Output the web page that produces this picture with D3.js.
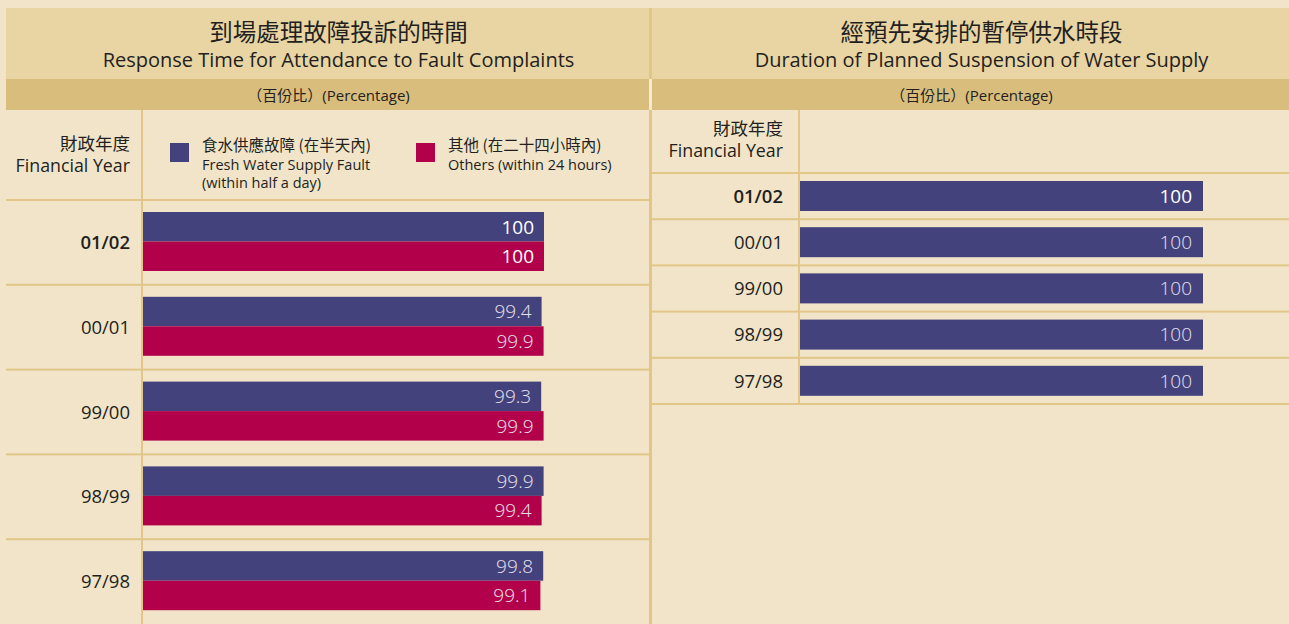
<!DOCTYPE html>
<html>
<head>
<meta charset="utf-8">
<script src="https://cdn.jsdelivr.net/npm/d3@7"></script>
<style>
  html, body { margin: 0; padding: 0; background: #f1e4c9; }
  svg { display: block; }
  text { font-family: "Open Sans", "Noto Sans CJK TC", sans-serif; fill: #231f20; font-weight: 400; }
  .cjk { font-family: "Noto Sans CJK TC", sans-serif; font-weight: 400; }
</style>
</head>
<body>
<div class="container"></div>
<script>
const WIDTH = 1289;
const HEIGHT = 624;

const BG = "#f1e4c9";
const TITLE_BAND = "#e9d4a3";
const SUB_BAND = "#d9bd7d";
const RULE = "#e2c688";
const BLUE = "#43427c";
const RED = "#b2004a";

// data
const years = ["01/02", "00/01", "99/00", "98/99", "97/98"];
const freshWater = [100, 99.4, 99.3, 99.9, 99.8];
const others = [100, 99.9, 99.9, 99.4, 99.1];
const suspension = [100, 100, 100, 100, 100];

const leftTitle = ["到場處理故障投訴的時間", "Response Time for Attendance to Fault Complaints"];
const rightTitle = ["經預先安排的暫停供水時段", "Duration of Planned Suspension of Water Supply"];
const unitLabel = ["（百份比）", "(Percentage)"];
const yearHeader = ["財政年度", "Financial Year"];
const legendFresh = ["食水供應故障 (在半天內)", "Fresh Water Supply Fault", "(within half a day)"];
const legendOthers = ["其他 (在二十四小時內)", "Others (within 24 hours)"];

const svg = d3.select(".container").append("svg")
  .attr("width", WIDTH)
  .attr("height", HEIGHT);

svg.append("rect").attr("width", WIDTH).attr("height", HEIGHT).attr("fill", BG);

var drawPanelHeader = function (x0, x1, title) {
  var cx = (x0 + x1) / 2;
  svg.append("rect").attr("x", x0).attr("y", 8).attr("width", x1 - x0).attr("height", 71).attr("fill", TITLE_BAND);
  svg.append("rect").attr("x", x0).attr("y", 79).attr("width", x1 - x0).attr("height", 31).attr("fill", SUB_BAND);
  // titles sit a little right of the panel centre in the original
  svg.append("text").attr("class", "cjk").attr("x", cx + 11).attr("y", 33)
    .attr("dy", "0.36em")
    .attr("text-anchor", "middle").style("font-size", "23.5px").text(title[0]);
  svg.append("text").attr("x", cx + 11).attr("y", 67)
    .attr("text-anchor", "middle").style("font-size", "20px").text(title[1]);
  var t = svg.append("text").attr("x", cx + 1).attr("y", 101)
    .attr("text-anchor", "middle").style("font-size", "15px");
  t.append("tspan").attr("class", "cjk").text(unitLabel[0]);
  t.append("tspan").text(unitLabel[1]);
};

drawPanelHeader(6, 649, leftTitle);
drawPanelHeader(652, WIDTH, rightTitle);

// panel separator
svg.append("rect").attr("x", 649).attr("y", 8).attr("width", 3).attr("height", 71).attr("fill", RULE);
svg.append("rect").attr("x", 649).attr("y", 79).attr("width", 3).attr("height", 31).attr("fill", "#f3ead4");
svg.append("rect").attr("x", 649).attr("y", 110).attr("width", 3).attr("height", HEIGHT - 110).attr("fill", RULE);

var drawYearHeader = function (xRight, y) {
  svg.append("text").attr("class", "cjk").attr("x", xRight).attr("y", y)
    .attr("text-anchor", "end").style("font-size", "17.5px").text(yearHeader[0]);
  svg.append("text").attr("x", xRight).attr("y", y + 22)
    .attr("text-anchor", "end").style("font-size", "17.8px").text(yearHeader[1]);
};

// ---------- left panel ----------
const left = { x0: 6, x1: 649, axisX: 143, top: 200, bottom: 624 };

const xLeft = d3.scaleLinear().domain([0, 100]).range([left.axisX, left.axisX + 401]);
const yLeft = d3.scaleBand().domain(years).range([left.top, left.bottom]);
const series = [
  { key: "fresh", values: freshWater, color: BLUE },
  { key: "others", values: others, color: RED }
];
const ySeries = d3.scaleBand().domain(series.map(function (s) { return s.key; }))
  .range([12, 71]);

drawYearHeader(130, 150);

// legend
var legend = svg.append("g");
legend.append("rect").attr("x", 170).attr("y", 143).attr("width", 19).attr("height", 19).attr("fill", BLUE);
legend.selectAll("text.lf").data(legendFresh).enter().append("text")
  .attr("class", function (d, i) { return i === 0 ? "lf cjk" : "lf"; })
  .attr("x", 202).attr("y", function (d, i) { return 151 + i * 18.5; })
  .style("font-size", function (d, i) { return i === 0 ? "15.5px" : "14.5px"; })
  .text(function (d) { return d; });
legend.append("rect").attr("x", 416).attr("y", 143).attr("width", 19).attr("height", 19).attr("fill", RED);
legend.selectAll("text.lo").data(legendOthers).enter().append("text")
  .attr("class", function (d, i) { return i === 0 ? "lo cjk" : "lo"; })
  .attr("x", 448).attr("y", function (d, i) { return 151 + i * 18.5; })
  .style("font-size", function (d, i) { return i === 0 ? "15.5px" : "14.5px"; })
  .text(function (d) { return d; });

// row rules
svg.append("g").selectAll("rect").data(years).enter().append("rect")
  .attr("x", left.x0).attr("width", left.x1 - left.x0)
  .attr("y", function (d) { return yLeft(d) - 1; }).attr("height", 2)
  .attr("fill", RULE);
svg.append("rect").attr("x", 141).attr("y", 110).attr("width", 2).attr("height", HEIGHT - 110).attr("fill", RULE);

// row labels
svg.append("g").selectAll("text").data(years).enter().append("text")
  .attr("x", 130)
  .attr("y", function (d) { return yLeft(d) + yLeft.bandwidth() / 2; })
  .attr("dy", "0.36em")
  .attr("text-anchor", "end")
  .style("font-size", "18.5px")
  .style("font-weight", function (d, i) { return i === 0 ? 600 : 400; })
  .text(function (d) { return d; });

// bars
series.forEach(function (s) {
  var g = svg.append("g");
  g.selectAll("rect").data(s.values).enter().append("rect")
    .attr("x", xLeft(0))
    .attr("y", function (d, i) { return yLeft(years[i]) + ySeries(s.key); })
    .attr("width", function (d) { return xLeft(d) - xLeft(0); })
    .attr("height", ySeries.bandwidth())
    .attr("fill", s.color);
  g.selectAll("text").data(s.values).enter().append("text")
    .attr("x", function (d) { return xLeft(d) - 10; })
    .attr("y", function (d, i) { return yLeft(years[i]) + ySeries(s.key) + ySeries.bandwidth() / 2; })
    .attr("dy", "0.36em")
    .attr("text-anchor", "end")
    .style("font-size", "19px")
    .style("fill", function (d, i) { return i === 0 ? "#ffffff" : "#e6e0ec"; })
    .style("font-weight", function (d, i) { return i === 0 ? 400 : 300; })
    .text(function (d) { return d; });
});

// ---------- right panel ----------
const right = { x0: 652, x1: WIDTH, axisX: 800, top: 173, bottom: 404 };

const xRight = d3.scaleLinear().domain([0, 100]).range([right.axisX, right.axisX + 403]);
const yRight = d3.scaleBand().domain(years).range([right.top, right.bottom]);

drawYearHeader(783, 135);

svg.append("g").selectAll("rect").data(years.concat(["end"])).enter().append("rect")
  .attr("x", right.x0).attr("width", right.x1 - right.x0)
  .attr("y", function (d, i) { return right.top + i * yRight.step() - 1; }).attr("height", 2)
  .attr("fill", RULE);
svg.append("rect").attr("x", 798).attr("y", 110).attr("width", 2).attr("height", right.bottom - 110).attr("fill", RULE);

svg.append("g").selectAll("text").data(years).enter().append("text")
  .attr("x", 783)
  .attr("y", function (d) { return yRight(d) + yRight.bandwidth() / 2; })
  .attr("dy", "0.36em")
  .attr("text-anchor", "end")
  .style("font-size", "18.5px")
  .style("font-weight", function (d, i) { return i === 0 ? 600 : 400; })
  .text(function (d) { return d; });

var rg = svg.append("g");
rg.selectAll("rect").data(suspension).enter().append("rect")
  .attr("x", xRight(0))
  .attr("y", function (d, i) { return yRight(years[i]) + 8; })
  .attr("width", function (d) { return xRight(d) - xRight(0); })
  .attr("height", 30)
  .attr("fill", BLUE);
rg.selectAll("text").data(suspension).enter().append("text")
  .attr("x", function (d) { return xRight(d) - 11; })
  .attr("y", function (d, i) { return yRight(years[i]) + 23; })
  .attr("dy", "0.36em")
  .attr("text-anchor", "end")
  .style("font-size", "19px")
  .style("fill", function (d, i) { return i === 0 ? "#ffffff" : "#e6e0ec"; })
  .style("font-weight", function (d, i) { return i === 0 ? 400 : 300; })
  .text(function (d) { return d; });
</script>
</body>
</html>
